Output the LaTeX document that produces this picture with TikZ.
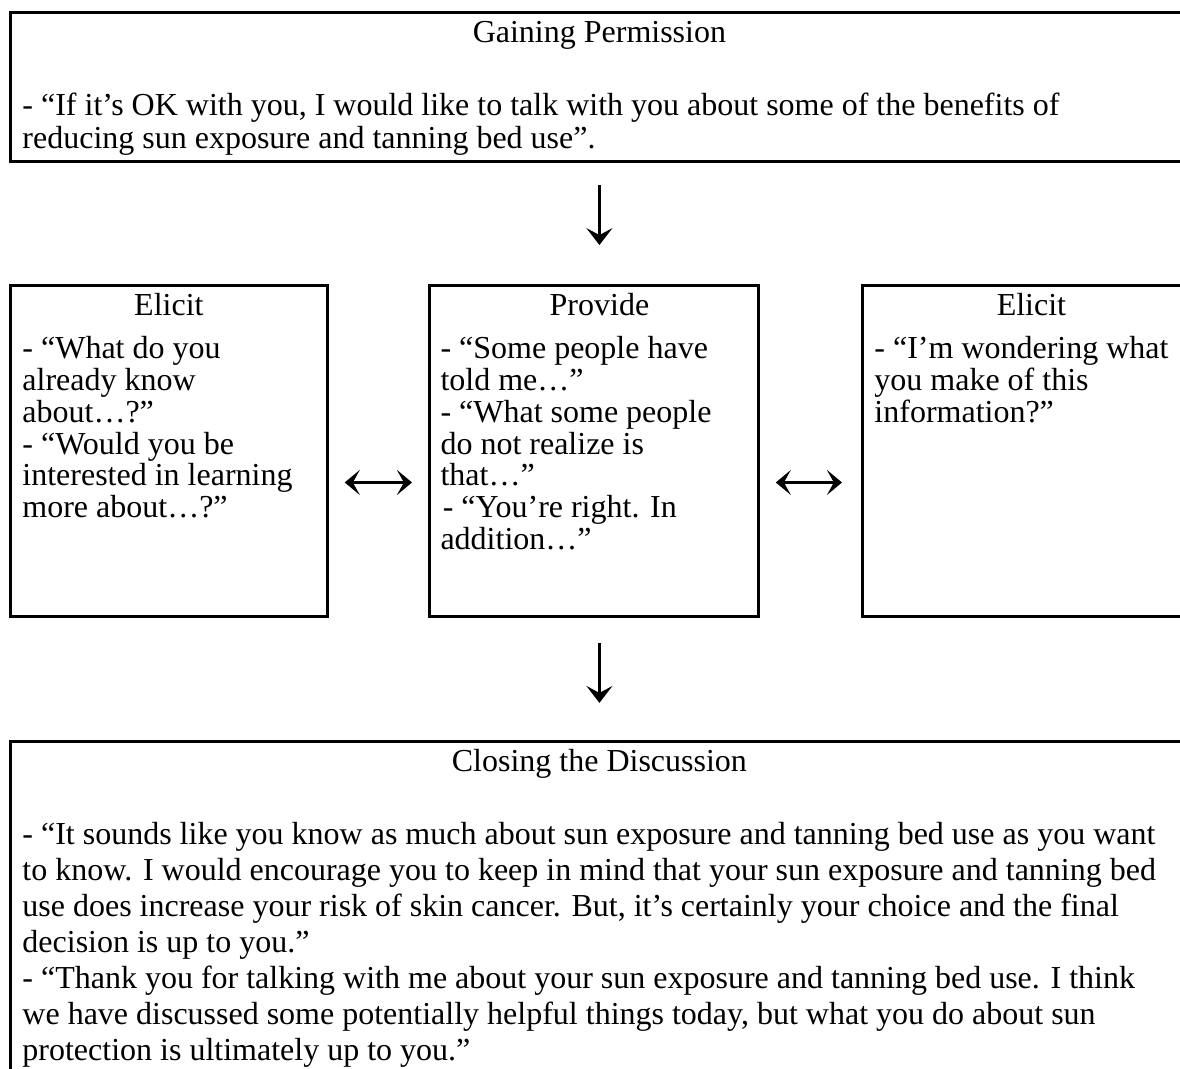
\documentclass[tikz,border=0pt]{standalone}
\usepackage{fontspec}
\setmainfont{Liberation Serif}
\usetikzlibrary{positioning,arrows.meta}

\begin{document}
\begin{tikzpicture}[x=0.4313pt,y=-0.4313pt]

\tikzset{box/.style={draw,line width=1.2pt,anchor=north west,inner sep=0pt},
  boxtitle/.style={font=\fontsize{13.8}{15}\selectfont,inner sep=0pt,anchor=base},
  boxtext/.style={font=\fontsize{13.8}{#1}\selectfont,inner sep=0pt,align=left,anchor=north west},
  downarrow/.style={-{Stealth[length=7.3pt,width=11.2pt,inset=3pt]},line width=1.2pt},
  backforth/.style={{Stealth[length=6.5pt,width=10.8pt,inset=3pt]}-{Stealth[length=6.5pt,width=10.8pt,inset=3pt]},line width=1.2pt}}

\useasboundingbox (0,0) rectangle (1180,1069);
\clip (0,0) rectangle (1180,1069);

\node[box,minimum width=508.1pt,minimum height=64.3pt] (permission) at (9,11) {};
\node[box,minimum width=136.7pt,minimum height=142.8pt] (elicitleft) at (9,284) {};
\node[box,minimum width=141.9pt,minimum height=142.8pt] (provide) at (428,284) {};
\node[box,minimum width=145.8pt,minimum height=142.8pt] (elicitright) at (861,284) {};
\node[box,minimum width=508.1pt,minimum height=159.6pt] (closing) at (9,740) {};

\node[below=13.4pt of permission.north,boxtitle] (permissiontitle) {Gaining Permission};
\node[below right=35pt and 5.6pt of permission.north west,boxtext=14.2pt] (permissiontext)
  {- “If it’s OK with you, I would like to talk with you about some of the benefits of\\
   reducing sun exposure and tanning bed use”.};

\node[below=13.4pt of elicitleft.north,boxtitle] (elicitlefttitle) {Elicit};
\node[below right=22.5pt and 5.6pt of elicitleft.north west,boxtext=13.7pt] (elicitlefttext)
  {- “What do you\\ already know\\ about…?”\\ - “Would you be\\ interested in learning\\ more about…?”};

\node[below=13.4pt of provide.north,xshift=2.4pt,boxtitle] (providetitle) {Provide};
\node[below right=22.5pt and 5.2pt of provide.north west,boxtext=13.7pt] (providetext)
  {- “Some people have\\ told me…”\\ - “What some people\\ do not realize is\\ that…”\\
   \hspace*{1pt}- “You’re right. In\\ addition…”};

\node[below=13.4pt of elicitright.north,boxtitle] (elicitrighttitle) {Elicit};
\node[below right=22.5pt and 5.6pt of elicitright.north west,boxtext=13.7pt] (elicitrighttext)
  {- “I’m wondering what\\ you make of this\\ information?”};

\node[below=13.4pt of closing.north,boxtitle] (closingtitle) {Closing the Discussion};
\node[below right=35.4pt and 5.6pt of closing.north west,boxtext=15.5pt] (closingtext)
  {- “It sounds like you know as much about sun exposure and tanning bed use as you want\\
   to know. I would encourage you to keep in mind that your sun exposure and tanning bed\\
   use does increase your risk of skin cancer. But, it’s certainly your choice and the final\\
   decision is up to you.”\\
   - “Thank you for talking with me about your sun exposure and tanning bed use. I think\\
   we have discussed some potentially helpful things today, but what you do about sun\\
   protection is ultimately up to you.”};

\draw[downarrow,shorten <=9.5pt,shorten >=16.8pt] (permission.south) -- (permission.south |- elicitleft.north);
\draw[backforth,shorten <=6.9pt,shorten >=6.9pt] ([yshift=-13.6pt]elicitleft.east) -- ([yshift=-13.6pt]provide.west);
\draw[backforth,shorten <=6.9pt,shorten >=8.2pt] ([yshift=-13.6pt]provide.east) -- ([yshift=-13.6pt]elicitright.west);
\draw[downarrow,shorten <=10.8pt,shorten >=16pt] (closing.north |- provide.south) -- (closing.north);

\end{tikzpicture}
\end{document}
